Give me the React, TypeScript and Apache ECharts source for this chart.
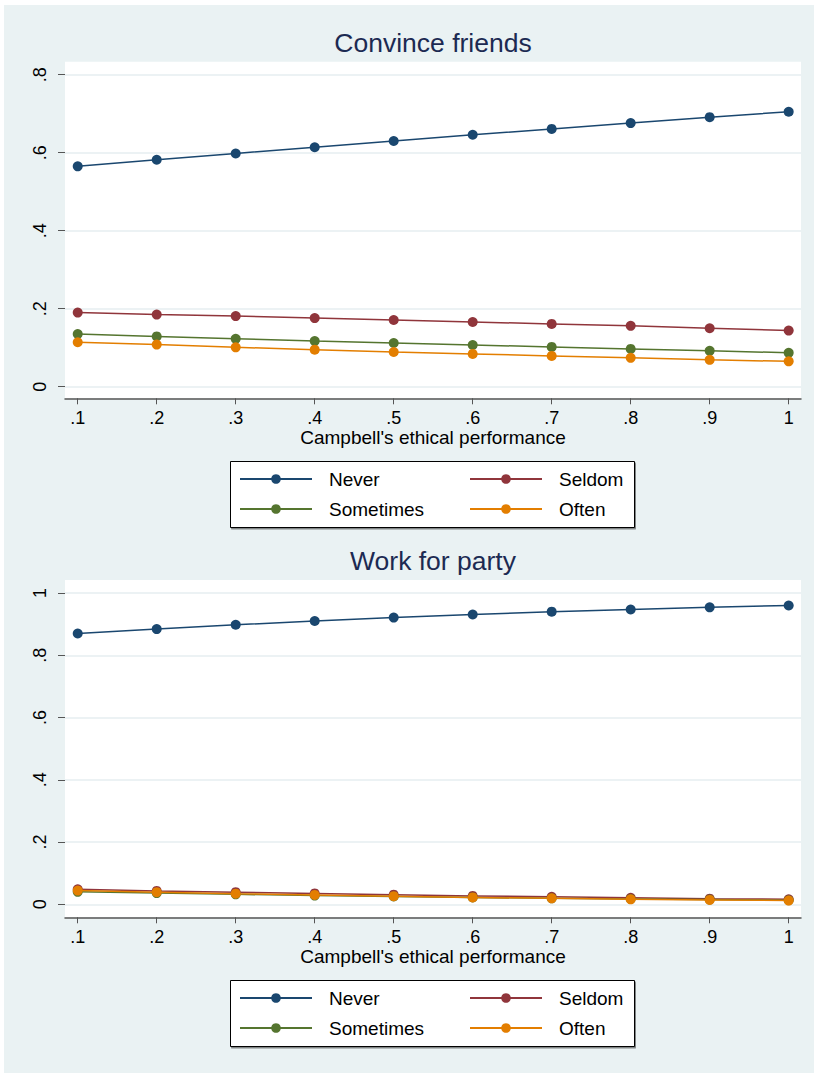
import React, { useEffect, useRef } from 'react';
import * as echarts from 'echarts';

// ---------- data ----------
const xValues = [0.1, 0.2, 0.3, 0.4, 0.5, 0.6, 0.7, 0.8, 0.9, 1.0];
const xTicks = [0.1, 0.2, 0.3, 0.4, 0.5, 0.6, 0.7, 0.8, 0.9, 1.0];
const seriesNames = ['Never', 'Seldom', 'Sometimes', 'Often'];

const convinceNever = [0.565, 0.582, 0.598, 0.614, 0.630, 0.646, 0.661, 0.676, 0.691, 0.705];
const convinceSeldom = [0.190, 0.185, 0.181, 0.176, 0.171, 0.166, 0.161, 0.156, 0.150, 0.144];
const convinceSometimes = [0.135, 0.129, 0.123, 0.117, 0.112, 0.107, 0.102, 0.097, 0.092, 0.087];
const convinceOften = [0.114, 0.108, 0.101, 0.095, 0.089, 0.084, 0.079, 0.074, 0.069, 0.065];

const partyNever = [0.870, 0.884, 0.898, 0.910, 0.921, 0.931, 0.940, 0.947, 0.954, 0.960];
const partySeldom = [0.048, 0.043, 0.039, 0.035, 0.031, 0.027, 0.024, 0.021, 0.018, 0.016];
const partySometimes = [0.040, 0.036, 0.032, 0.028, 0.025, 0.022, 0.019, 0.017, 0.015, 0.013];
const partyOften = [0.044, 0.039, 0.034, 0.030, 0.026, 0.022, 0.019, 0.016, 0.014, 0.012];

const yTicksTop = [0, 0.2, 0.4, 0.6, 0.8];
const yTicksBottom = [0, 0.2, 0.4, 0.6, 0.8, 1];
const panelTitles = ['Convince friends', 'Work for party'];
const xAxisTitle = "Campbell's ethical performance";

// ---------- style ----------
const colors = ['#1a476f', '#90353b', '#55752f', '#e37e00'];
const FONT = '"Liberation Sans", Arial, Helvetica, sans-serif';
const BG = '#eaf2f3';
const GRID_COLOR = '#e6eef0';
const AXIS_COLOR = '#555555';

const fmt = (v: number) => {
  if (Math.abs(v) < 1e-9) return '0';
  if (Math.abs(v - 1) < 1e-9) return '1';
  return v.toFixed(1).replace(/^0/, '');
};

const labelStyle = { fontSize: 18, fontFamily: FONT, color: '#000000' };

export default function App() {
  const ref = useRef<HTMLDivElement>(null);

  useEffect(() => {
    if (!ref.current) return;
    const chart = echarts.init(ref.current, undefined, { renderer: 'svg' });

    const panels = [
      {
        top: 61.7, height: 336.6, yMin: -0.0297, yMax: 0.8333, yTicks: yTicksTop,
        data: [convinceNever, convinceSeldom, convinceSometimes, convinceOften],
        titleY: 42.5, legendTop: 469.5, boxTop: 461,
      },
      {
        top: 580, height: 337.3, yMin: -0.0418, yMax: 1.0418, yTicks: yTicksBottom,
        data: [partyNever, partySeldom, partySometimes, partyOften],
        titleY: 560.8, legendTop: 988.5, boxTop: 980,
      },
    ];

    const grid: any[] = [];
    const xAxis: any[] = [];
    const yAxis: any[] = [];
    const series: any[] = [];
    const legend: any[] = [];
    const graphic: any[] = [
      {
        type: 'rect', z: -10, silent: true,
        shape: { x: 4, y: 5, width: 810, height: 1068 },
        style: { fill: BG },
      },
    ];

    panels.forEach((p, c) => {
      grid.push({
        left: 65, top: p.top, width: 736, height: p.height,
        show: true, backgroundColor: '#ffffff', borderWidth: 0,
      });
      xAxis.push({
        type: 'value', gridIndex: c, min: 0.0839, max: 1.0156,
        axisLine: { show: true, onZero: false, lineStyle: { color: AXIS_COLOR, width: 1.5 } },
        axisTick: { show: true, length: 6, customValues: xTicks, lineStyle: { color: AXIS_COLOR, width: 1 } },
        axisLabel: {
          show: true, customValues: xTicks, margin: 11,
          formatter: (v: number) => '{t|' + fmt(v) + '}',
          rich: { t: labelStyle },
          ...labelStyle,
        },
        splitLine: { show: false },
        name: xAxisTitle, nameLocation: 'middle', nameGap: 30,
        nameTextStyle: { fontSize: 19, color: '#000', fontFamily: FONT },
      });
      yAxis.push({
        type: 'value', gridIndex: c, min: p.yMin, max: p.yMax,
        axisLine: { show: false, onZero: false },
        axisTick: { show: true, length: 7, customValues: p.yTicks, lineStyle: { color: AXIS_COLOR, width: 1 } },
        axisLabel: {
          show: true, customValues: p.yTicks, rotate: 90, margin: 16,
          formatter: (v: number) => '{t|' + fmt(v) + '}',
          rich: { t: labelStyle },
          ...labelStyle,
        },
        splitLine: { show: true, lineStyle: { color: GRID_COLOR, width: 1.5 } },
      });
      seriesNames.forEach((name, s) => {
        series.push({
          type: 'line', name, xAxisIndex: c, yAxisIndex: c, z: 2 + s,
          data: xValues.map((x, i) => [x, p.data[s][i]]),
          symbol: 'circle', symbolSize: 10, showSymbol: true,
          color: colors[s],
          itemStyle: { color: colors[s] },
          lineStyle: { color: colors[s], width: 1.5 },
        });
      });
      [['Never', 'Sometimes'], ['Seldom', 'Often']].forEach((names, col) => {
        legend.push({
          data: names, orient: 'vertical', left: col === 0 ? 239 : 469, top: p.legendTop,
          padding: 0, itemGap: 11, itemWidth: 72, itemHeight: 12, selectedMode: false, z: 6,
          textStyle: { fontSize: 19, lineHeight: 19, color: '#000', fontFamily: FONT, padding: [0, 0, 0, 12] },
        });
      });
      graphic.push({
        type: 'rect', z: -5, silent: true,
        shape: { x: 230.5, y: p.boxTop + 0.5, width: 404, height: 66 },
        style: {
          fill: '#ffffff', stroke: '#000000', lineWidth: 1,
          shadowColor: 'rgba(0,0,0,0.45)', shadowOffsetX: 1, shadowOffsetY: 1.5, shadowBlur: 0,
        },
      });
      graphic.push({
        type: 'text', x: 433, y: p.titleY, silent: true,
        style: {
          text: panelTitles[c], fill: '#1c2a52', fontSize: 26.5, fontFamily: FONT,
          align: 'center', verticalAlign: 'middle',
        },
      });
    });

    chart.setOption({
      animation: false,
      backgroundColor: 'transparent',
      textStyle: { fontFamily: FONT },
      grid, xAxis, yAxis, series, legend, graphic,
    });

    return () => chart.dispose();
  }, []);

  return (
    <div
      ref={ref}
      style={{ position: 'absolute', left: 0, top: 0, width: 814, height: 1073 }}
    />
  );
}
